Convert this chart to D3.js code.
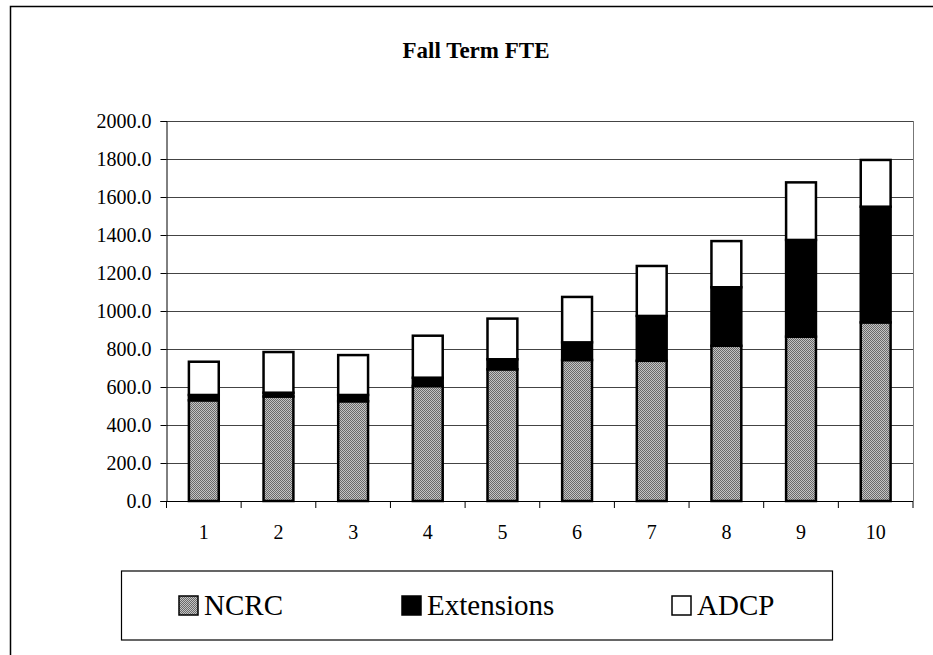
<!DOCTYPE html>
<html>
<head>
<meta charset="utf-8">
<script src="https://cdn.jsdelivr.net/npm/d3@7"></script>
<style>
  body { margin: 0; background: #fff; }
</style>
</head>
<body>
<div id="chart"></div>
<script>
// values
var years = ["1", "2", "3", "4", "5", "6", "7", "8", "9", "10"];
var ncrc = [530, 550, 525, 605, 693, 742, 738, 817, 865, 940];
var extensions = [28, 20, 33, 44, 53, 93, 236, 308, 509, 609];
var adcp = [175, 214, 210, 221, 214, 239, 263, 243, 303, 246];
var seriesNames = ["NCRC", "Extensions", "ADCP"];
var yTicks = [0, 200, 400, 600, 800, 1000, 1200, 1400, 1600, 1800, 2000];

var width = 933,
    height = 655;

var serif = "'Liberation Serif', 'Times New Roman', Times, 'Nimbus Roman', 'FreeSerif', 'Noto Serif', 'DejaVu Serif', serif";

var plot = {left: 166.5, right: 913, top: 121, bottom: 501};

var svg = d3.select("#chart").append("svg")
    .attr("width", width)
    .attr("height", height)
    .style("font-family", serif);

// dotted gray fill used for NCRC
var defs = svg.append("defs");
var pat = defs.append("pattern")
    .attr("id", "stipple")
    .attr("width", 2).attr("height", 2)
    .attr("patternUnits", "userSpaceOnUse");
pat.append("rect").attr("width", 2).attr("height", 2).attr("fill", "#c4c4c4");
pat.append("rect").attr("width", 1).attr("height", 1).attr("fill", "#6a6a6a");
pat.append("rect").attr("x", 1).attr("y", 1).attr("width", 1).attr("height", 1).attr("fill", "#6a6a6a");

var fills = {"NCRC": "url(#stipple)", "Extensions": "#000", "ADCP": "#fff"};

// outer frame
svg.append("rect")
    .attr("x", 10.5).attr("y", 6.5)
    .attr("width", 960).attr("height", 700)
    .attr("fill", "none")
    .attr("stroke", "#000")
    .attr("stroke-width", 1.5);

svg.append("text")
    .attr("x", 476)
    .attr("y", 58)
    .attr("text-anchor", "middle")
    .style("font-family", serif)
    .style("font-size", "23px")
    .style("font-weight", "bold")
    .text("Fall Term FTE");

var x = d3.scaleBand()
    .domain(years)
    .range([plot.left, plot.right])
    .padding(0);

var y = d3.scaleLinear()
    .domain([0, 2000])
    .range([plot.bottom, plot.top]);

// gridlines
svg.selectAll(".grid")
    .data(yTicks.slice(1))
    .enter().append("line")
    .attr("class", "grid")
    .attr("x1", plot.left)
    .attr("x2", plot.right)
    .attr("y1", function(d) { return Math.round(y(d)) + 0.5; })
    .attr("y2", function(d) { return Math.round(y(d)) + 0.5; })
    .style("stroke", "#444")
    .style("stroke-width", 1);

// right border of plot area
svg.append("line")
    .attr("x1", plot.right + 0.5).attr("x2", plot.right + 0.5)
    .attr("y1", plot.top).attr("y2", plot.bottom)
    .style("stroke", "#777");

// stacked data
var rows = years.map(function(d, i) {
    return {year: d, NCRC: ncrc[i], Extensions: extensions[i], ADCP: adcp[i]};
});
var stacked = d3.stack().keys(seriesNames)(rows);

var barW = x.bandwidth() * 0.4;

var layers = svg.selectAll(".layer")
    .data(stacked)
    .enter().append("g")
    .attr("class", "layer")
    .attr("fill", function(d) { return fills[d.key]; });

layers.selectAll("rect")
    .data(function(d) { return d; })
    .enter().append("rect")
    .attr("x", function(d) { return x(d.data.year) + (x.bandwidth() - barW) / 2; })
    .attr("y", function(d) { return y(d[1]); })
    .attr("width", barW)
    .attr("height", function(d) { return y(d[0]) - y(d[1]); })
    .style("stroke", "#000")
    .style("stroke-width", 2.5);

// y axis
var yAxis = svg.append("g")
    .attr("transform", "translate(" + plot.left + ",0)")
    .call(d3.axisLeft(y).tickValues(yTicks).tickSize(6).tickPadding(9)
        .tickFormat(function(d) { return d3.format(".1f")(d); }));
yAxis.attr("font-family", serif);
yAxis.select(".domain").attr("stroke", "#000");
yAxis.selectAll("text")
    .style("font-family", serif)
    .style("font-size", "20px")
    .attr("fill", "#000");

// x axis, ticks between categories
var xAxis = svg.append("g")
    .attr("transform", "translate(0," + plot.bottom + ")");
xAxis.append("line")
    .attr("x1", plot.left - 6).attr("x2", plot.right)
    .attr("y1", 0.5).attr("y2", 0.5)
    .style("stroke", "#000");
xAxis.selectAll(".xtick")
    .data(years.concat(["end"]))
    .enter().append("line")
    .attr("class", "xtick")
    .attr("x1", function(d, i) { return plot.left + i * x.bandwidth(); })
    .attr("x2", function(d, i) { return plot.left + i * x.bandwidth(); })
    .attr("y1", 0).attr("y2", 7)
    .style("stroke", "#000");
xAxis.selectAll(".xlabel")
    .data(years)
    .enter().append("text")
    .attr("class", "xlabel")
    .attr("x", function(d) { return x(d) + x.bandwidth() / 2; })
    .attr("y", 38)
    .attr("text-anchor", "middle")
    .style("font-family", serif)
    .style("font-size", "20px")
    .text(function(d) { return d; });

// legend
svg.append("rect")
    .attr("x", 121.5).attr("y", 571)
    .attr("width", 711).attr("height", 69)
    .attr("fill", "none")
    .attr("stroke", "#000")
    .attr("stroke-width", 1.2);

var legendX = [179, 402, 672];
var legend = svg.selectAll(".legend")
    .data(seriesNames)
    .enter().append("g")
    .attr("class", "legend")
    .attr("transform", function(d, i) { return "translate(" + legendX[i] + ",596)"; });

legend.append("rect")
    .attr("width", 19).attr("height", 19)
    .attr("fill", function(d) { return fills[d]; })
    .style("stroke", "#000")
    .style("stroke-width", 1.5);

legend.append("text")
    .attr("x", 25)
    .attr("y", 19)
    .style("font-family", serif)
    .style("font-size", "29px")
    .text(function(d) { return d; });
</script>
</body>
</html>
